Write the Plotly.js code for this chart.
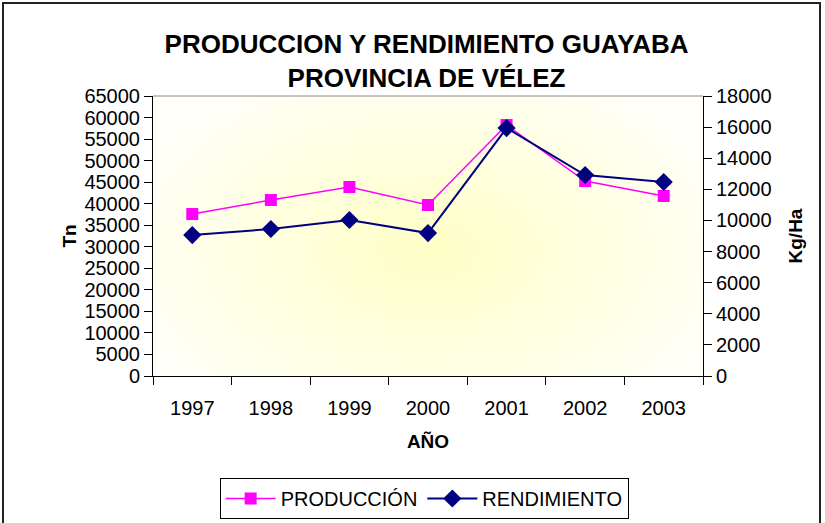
<!DOCTYPE html>
<html>
<head>
<meta charset="utf-8">
<script src="https://cdn.plot.ly/plotly-3.0.1.min.js"></script>
<style>
html,body{margin:0;padding:0;background:#fff;overflow:hidden;}
#wrap{position:relative;width:825px;height:523px;overflow:hidden;}
#frame{position:absolute;left:2px;top:2px;width:819px;height:540px;border:2px solid #222;box-sizing:border-box;pointer-events:none;z-index:5;}
#chart{position:absolute;left:0;top:0;width:825px;height:523px;}
</style>
</head>
<body>
<div id="wrap"><div id="chart"></div><div id="frame"></div></div>
<script>
const years = ['1997','1998','1999','2000','2001','2002','2003'];
const produccion = [37600, 40850, 43870, 39700, 58260, 45260, 41780];
const rendimiento = [9060, 9450, 10030, 9190, 15940, 12920, 12470];
const leftTicks = [0,5000,10000,15000,20000,25000,30000,35000,40000,45000,50000,55000,60000,65000];
const rightTicks = [0,2000,4000,6000,8000,10000,12000,14000,16000,18000];

// radial gradient background for plot area
const cv = document.createElement('canvas');
cv.width = 550; cv.height = 280;
const ctx = cv.getContext('2d');
ctx.fillStyle = '#ffffff';
ctx.fillRect(0,0,550,280);
ctx.save();
ctx.translate(275,155);
ctx.scale(1.6,1);
const g = ctx.createRadialGradient(0,0,0,0,0,200);
g.addColorStop(0,'#ffffc6');
g.addColorStop(1,'#fffff8');
ctx.fillStyle = g;
ctx.fillRect(-200,-160,400,320);
ctx.restore();
const bg = cv.toDataURL();

const font = 'Liberation Sans, Arial, sans-serif';
const traces = [
  {x: years, y: produccion, name: 'PRODUCCIÓN', type: 'scatter', mode: 'lines+markers',
   line: {color: '#ff00ff', width: 1.5}, marker: {symbol: 'square', size: 12, color: '#ff00ff'}, yaxis: 'y'},
  {x: years, y: rendimiento, name: 'RENDIMIENTO', type: 'scatter', mode: 'lines+markers',
   line: {color: '#000080', width: 2}, marker: {symbol: 'diamond', size: 14, color: '#000080'}, yaxis: 'y2'}
];
const layout = {
  width: 825, height: 523,
  margin: {l: 153, r: 122, t: 96, b: 147},
  paper_bgcolor: 'rgba(0,0,0,0)', plot_bgcolor: 'rgba(0,0,0,0)',
  font: {family: font, size: 20, color: '#000'},
  title: {text: 'PRODUCCION Y RENDIMIENTO GUAYABA<br>PROVINCIA DE VÉLEZ', x: 0.517, xanchor: 'center', y: 0.899, yanchor: 'middle',
          font: {family: font, size: 26, color: '#000', weight: 'bold'}},
  xaxis: {type: 'category', range: [-0.5, 6.5], tickson: 'boundaries', ticks: 'outside', ticklen: 8, tickcolor: '#000',
          showline: true, linecolor: '#000', linewidth: 1, showgrid: false, zeroline: false, automargin: false,
          ticklabelstandoff: 14,
          tickfont: {size: 20}, title: {text: 'AÑO', font: {size: 19, weight: 'bold'}, standoff: 16}},
  yaxis: {range: [0, 65000], tickvals: leftTicks, tickformat: 'd', ticks: 'outside', ticklen: 8, tickcolor: '#000',
          showline: true, linecolor: '#000', showgrid: false, zeroline: false, tickfont: {size: 20}, automargin: false,
          title: {text: 'Tn', font: {size: 19, weight: 'bold'}, standoff: 2}},
  yaxis2: {range: [0, 18000], tickvals: rightTicks, tickformat: 'd', overlaying: 'y', side: 'right', ticks: 'outside', ticklen: 8, tickcolor: '#000',
           showline: true, linecolor: '#000', showgrid: false, zeroline: false, tickfont: {size: 20}, automargin: false,
           title: {text: 'Kg/Ha', font: {size: 19, weight: 'bold'}, standoff: 18}},
  showlegend: true,
  legend: {orientation: 'h', x: 0.493, xanchor: 'center', yref: 'container', y: 0.086, yanchor: 'top', bordercolor: '#000', borderwidth: 1,
           bgcolor: '#fff', font: {size: 20}, itemwidth: 50},
  images: [{source: bg, xref: 'paper', yref: 'paper', x: 0, y: 1, sizex: 1, sizey: 1, sizing: 'stretch', layer: 'below'}],
  shapes: [{type: 'line', xref: 'paper', yref: 'paper', x0: 0, x1: 1, y0: 1, y1: 1, line: {color: '#888', width: 1}}]
};
Plotly.newPlot('chart', traces, layout, {displayModeBar: false, staticPlot: true});
</script>
</body>
</html>
